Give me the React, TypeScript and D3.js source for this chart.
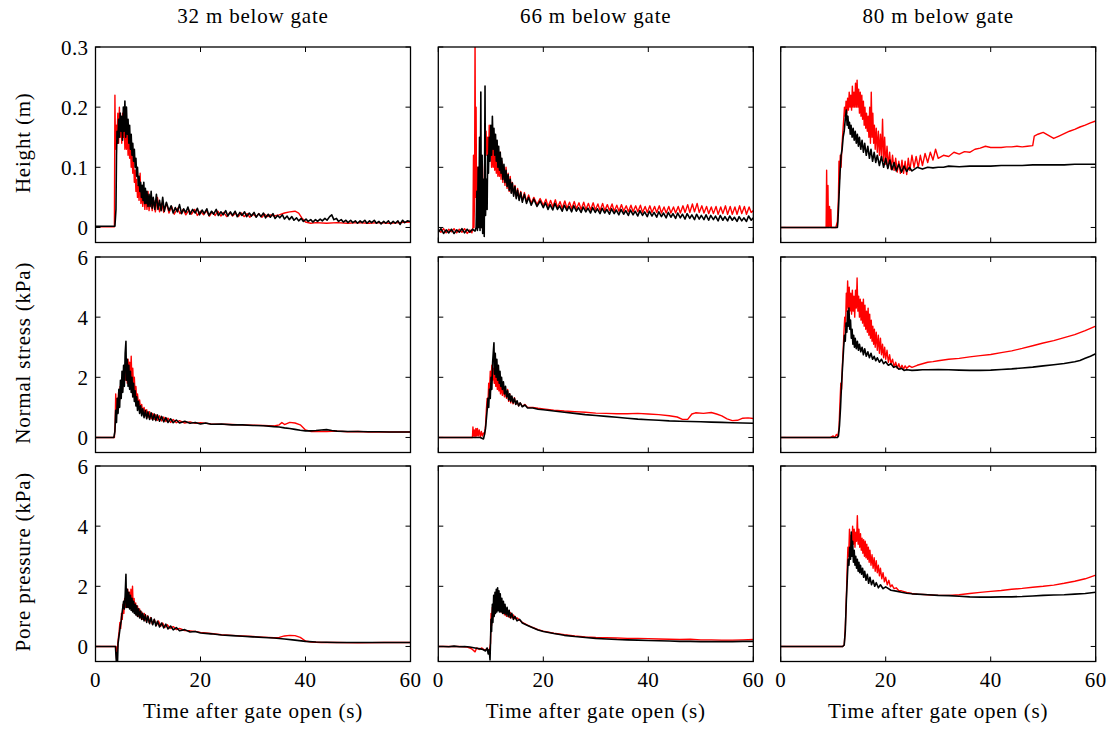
import React from "react";
import * as d3 from "d3";

type Pt = [number, number];

const columnTitles = ["32 m below gate", "66 m below gate", "80 m below gate"];
const rowLabels = ["Height (m)", "Normal stress (kPa)", "Pore pressure (kPa)"];
const xTicks = [0, 20, 40, 60];
const yTicksHeight = [0, 0.1, 0.2, 0.3];
const yTicksKpa = [0, 2, 4, 6];
const xLabel = "Time after gate open (s)";

// ---- 32 m ----
const h32Red: Pt[] = [[0,0.001],[3.6,0.001],[3.7,0.22],[3.8,0.13],[3.95,0.17],[4.1,0.15],[4.25,0.19],[4.4,0.14],[4.55,0.2],[4.7,0.15],[4.85,0.18],[5.0,0.14],[5.15,0.19],[5.3,0.15],[5.45,0.17],[5.6,0.13],[5.75,0.16],[5.9,0.13],[6.05,0.175],[6.2,0.12],[6.35,0.16],[6.5,0.115],[6.65,0.14],[6.8,0.1],[6.95,0.125],[7.1,0.09],[7.25,0.11],[7.4,0.075],[7.55,0.095],[7.7,0.06],[7.85,0.08],[8.0,0.05],[8.15,0.07],[8.3,0.045],[8.5,0.09],[8.65,0.04],[8.8,0.06],[9.0,0.035],[9.2,0.065],[9.4,0.03],[9.6,0.055],[9.8,0.03],[10.0,0.06],[10.2,0.028],[10.5,0.05],[10.8,0.028],[11.1,0.045],[11.4,0.026],[11.8,0.05],[12.2,0.026],[12.6,0.04],[13.0,0.025],[13.5,0.04],[14,0.024],[14.5,0.035],[15.0,0.022],[15.6,0.032],[16.1,0.023],[16.7,0.03],[17.2,0.021],[17.8,0.029],[18.3,0.022],[18.9,0.03],[19.4,0.02],[20.0,0.027],[20.6,0.021],[21.1,0.028],[21.7,0.019],[22.2,0.026],[22.8,0.02],[23.3,0.027],[23.9,0.019],[24.4,0.025],[25.0,0.018],[25.6,0.025],[26.1,0.019],[26.7,0.024],[27.2,0.018],[27.8,0.024],[28.3,0.018],[28.9,0.023],[29.4,0.017],[30.0,0.022],[30.6,0.018],[31.1,0.023],[31.7,0.017],[32.2,0.022],[32.8,0.018],[33.3,0.021],[34,0.019],[35,0.021],[36,0.024],[37,0.026],[38,0.027],[38.7,0.024],[39.3,0.016],[40,0.009],[41,0.007],[42,0.008],[44,0.007],[46,0.008],[48,0.007],[50,0.008],[52,0.007],[54,0.008],[56,0.007],[58,0.008],[60,0.009]];
const h32Black: Pt[] = [[0,0.002],[3.7,0.002],[3.9,0.03],[4.0,0.12],[4.1,0.16],[4.25,0.14],[4.4,0.18],[4.55,0.15],[4.7,0.19],[4.85,0.16],[5.0,0.185],[5.15,0.145],[5.3,0.2],[5.45,0.16],[5.6,0.21],[5.75,0.15],[5.9,0.2],[6.05,0.155],[6.2,0.18],[6.35,0.14],[6.5,0.17],[6.65,0.13],[6.8,0.155],[6.95,0.12],[7.1,0.14],[7.25,0.11],[7.4,0.13],[7.55,0.1],[7.7,0.115],[7.85,0.085],[8.0,0.1],[8.15,0.07],[8.3,0.085],[8.45,0.06],[8.6,0.075],[8.75,0.05],[8.9,0.07],[9.05,0.045],[9.2,0.075],[9.35,0.04],[9.5,0.065],[9.65,0.04],[9.8,0.06],[10.0,0.035],[10.2,0.055],[10.4,0.035],[10.6,0.06],[10.8,0.032],[11.0,0.05],[11.3,0.03],[11.6,0.055],[11.9,0.03],[12.2,0.045],[12.5,0.028],[12.8,0.05],[13.1,0.027],[13.5,0.042],[14.0,0.028],[14.4,0.036],[14.8,0.024],[15.2,0.033],[15.6,0.026],[16.0,0.038],[16.4,0.023],[16.8,0.031],[17.2,0.025],[17.6,0.034],[18.0,0.022],[18.5,0.03],[19.0,0.024],[19.4,0.032],[19.8,0.021],[20.3,0.029],[20.7,0.023],[21.2,0.031],[21.6,0.02],[22.1,0.027],[22.5,0.022],[23.0,0.03],[23.4,0.02],[23.9,0.026],[24.3,0.021],[24.8,0.028],[25.2,0.019],[25.7,0.026],[26.1,0.02],[26.6,0.027],[27.0,0.018],[27.5,0.025],[27.9,0.02],[28.4,0.026],[28.8,0.018],[29.3,0.024],[29.7,0.019],[30.2,0.025],[30.6,0.017],[31.1,0.023],[31.5,0.018],[32.0,0.024],[32.4,0.016],[32.9,0.022],[33.3,0.017],[33.8,0.023],[34.2,0.015],[34.7,0.02],[35.1,0.016],[35.6,0.021],[36.0,0.014],[36.5,0.019],[36.9,0.013],[37.4,0.018],[37.8,0.012],[38.3,0.016],[38.7,0.011],[39.2,0.015],[39.6,0.01],[40.1,0.014],[40.5,0.01],[41.0,0.013],[41.4,0.009],[41.9,0.013],[42.3,0.01],[42.8,0.014],[43.2,0.011],[43.7,0.015],[44.1,0.012],[44.6,0.018],[45.0,0.021],[45.4,0.013],[45.9,0.015],[46.3,0.01],[46.8,0.013],[47.2,0.009],[47.7,0.012],[48.1,0.008],[48.6,0.012],[49.0,0.008],[49.5,0.011],[49.9,0.007],[50.4,0.011],[50.8,0.008],[51.3,0.012],[51.7,0.007],[52.2,0.011],[52.6,0.008],[53.1,0.012],[53.5,0.007],[54.0,0.01],[54.4,0.006],[54.9,0.01],[55.3,0.007],[55.8,0.011],[56.2,0.006],[56.7,0.01],[57.1,0.007],[57.6,0.011],[58.0,0.005],[58.5,0.012],[58.9,0.008],[59.4,0.011],[60,0.01]];
const ns32Red: Pt[] = [[0,0],[3.6,0],[3.75,0.5],[3.85,1.45],[3.95,0.9],[4.1,1.3],[4.25,1.0],[4.4,1.5],[4.55,1.2],[4.7,1.7],[4.85,1.35],[5.0,1.9],[5.15,1.6],[5.3,2.2],[5.45,1.8],[5.6,2.4],[5.75,1.9],[5.9,2.5],[6.05,1.8],[6.2,2.6],[6.35,1.9],[6.5,2.5],[6.65,1.8],[6.8,2.7],[6.95,1.75],[7.1,2.3],[7.25,1.6],[7.4,2.0],[7.55,1.4],[7.7,1.7],[7.85,1.2],[8.0,1.45],[8.2,1.05],[8.4,1.25],[8.6,0.9],[8.8,1.1],[9.0,0.8],[9.25,1.0],[9.5,0.72],[9.75,0.92],[10.0,0.66],[10.3,0.86],[10.6,0.62],[10.9,0.8],[11.2,0.6],[11.5,0.76],[11.8,0.57],[12.2,0.72],[12.6,0.55],[13.0,0.68],[13.4,0.53],[13.8,0.64],[14.3,0.5],[14.8,0.6],[15.4,0.49],[16,0.56],[17,0.48],[18,0.52],[19,0.47],[20,0.49],[22,0.45],[24,0.44],[26,0.43],[28,0.42],[30,0.41],[32,0.4],[34,0.38],[35,0.42],[35.5,0.5],[36,0.43],[37,0.5],[38,0.48],[39,0.42],[40,0.25],[41,0.2],[42,0.2],[44,0.2],[46,0.21],[48,0.19],[50,0.2],[52,0.18],[54,0.18],[56,0.18],[58,0.18],[60,0.18]];
const ns32Black: Pt[] = [[0,0],[3.5,0],[3.7,0.2],[3.85,0.9],[4.0,0.5],[4.15,1.3],[4.3,0.8],[4.45,1.6],[4.6,1.0],[4.75,1.9],[4.9,1.3],[5.05,2.2],[5.2,1.5],[5.35,2.4],[5.5,1.7],[5.65,2.8],[5.8,3.2],[5.9,1.9],[6.05,2.6],[6.2,1.7],[6.35,2.4],[6.5,1.6],[6.65,2.2],[6.8,1.5],[6.95,2.0],[7.1,1.35],[7.25,1.8],[7.4,1.2],[7.55,1.55],[7.7,1.05],[7.85,1.35],[8.0,0.9],[8.2,1.2],[8.4,0.8],[8.6,1.05],[8.8,0.72],[9.0,0.95],[9.25,0.66],[9.5,0.9],[9.75,0.62],[10.0,0.85],[10.3,0.6],[10.6,0.82],[10.9,0.58],[11.2,0.78],[11.5,0.56],[11.8,0.75],[12.2,0.54],[12.6,0.7],[13.0,0.52],[13.4,0.66],[13.8,0.5],[14.3,0.62],[14.8,0.49],[15.4,0.58],[16,0.48],[17,0.54],[18,0.47],[19,0.5],[20,0.45],[21,0.48],[22,0.44],[24,0.45],[26,0.42],[28,0.42],[30,0.4],[32,0.39],[34,0.36],[35,0.35],[36,0.32],[37,0.3],[38,0.27],[39,0.24],[40,0.22],[41,0.22],[42,0.23],[43,0.25],[44,0.26],[45,0.23],[46,0.21],[48,0.2],[50,0.2],[52,0.19],[54,0.19],[56,0.18],[58,0.18],[60,0.18]];
const pp32Red: Pt[] = [[0,0],[3.9,0],[4.0,-0.4],[4.15,-0.1],[4.3,0.2],[4.5,0.5],[4.65,0.8],[4.8,0.6],[4.95,1.1],[5.1,0.9],[5.25,1.4],[5.4,1.1],[5.55,1.6],[5.7,1.3],[5.85,1.8],[6.0,1.3],[6.15,1.9],[6.3,1.35],[6.45,1.8],[6.6,1.3],[6.75,1.9],[6.9,1.25],[7.05,2.0],[7.2,1.2],[7.35,1.6],[7.5,1.1],[7.65,1.45],[7.8,1.05],[8.0,1.35],[8.2,1.0],[8.4,1.25],[8.6,0.95],[8.8,1.15],[9.0,0.9],[9.3,1.1],[9.6,0.85],[9.9,1.02],[10.2,0.8],[10.5,0.96],[10.8,0.75],[11.2,0.9],[11.6,0.7],[12.0,0.85],[12.4,0.67],[12.8,0.78],[13.2,0.63],[13.7,0.72],[14.2,0.6],[14.8,0.66],[15.4,0.56],[16,0.6],[17,0.53],[18,0.52],[19,0.5],[20,0.47],[22,0.43],[24,0.39],[26,0.37],[28,0.35],[30,0.33],[32,0.31],[34,0.29],[35,0.3],[36,0.35],[37,0.37],[38,0.36],[39,0.3],[40,0.18],[41,0.15],[43,0.13],[46,0.13],[50,0.12],[55,0.13],[60,0.13]];
const pp32Black: Pt[] = [[0,0],[3.8,0],[3.9,-0.3],[4.0,-0.6],[4.1,-0.2],[4.2,-0.5],[4.3,0.1],[4.45,0.3],[4.6,0.5],[4.75,0.7],[4.9,0.85],[5.05,1.1],[5.2,1.3],[5.35,1.5],[5.5,1.25],[5.65,1.7],[5.8,2.4],[5.9,1.3],[6.05,1.9],[6.2,1.3],[6.35,1.8],[6.5,1.25],[6.65,1.7],[6.8,1.2],[6.95,1.6],[7.1,1.15],[7.25,1.5],[7.4,1.1],[7.55,1.4],[7.7,1.05],[7.85,1.35],[8.0,1.0],[8.2,1.25],[8.4,0.95],[8.6,1.18],[8.8,0.9],[9.0,1.1],[9.25,0.85],[9.5,1.05],[9.75,0.8],[10.0,1.0],[10.3,0.76],[10.6,0.95],[10.9,0.72],[11.2,0.9],[11.5,0.68],[11.8,0.84],[12.2,0.65],[12.6,0.78],[13.0,0.62],[13.4,0.74],[13.8,0.58],[14.3,0.68],[14.8,0.55],[15.4,0.63],[16,0.52],[17,0.56],[18,0.48],[19,0.5],[20,0.45],[22,0.42],[24,0.38],[26,0.36],[28,0.34],[30,0.32],[32,0.3],[34,0.28],[36,0.25],[38,0.21],[40,0.17],[42,0.15],[44,0.14],[46,0.13],[50,0.13],[55,0.13],[60,0.13]];

// ---- 66 m ----
const h66Red: Pt[] = [[0,-0.004],[0.5,-0.008],[1,-0.002],[1.5,-0.009],[2,-0.003],[2.5,-0.007],[3,-0.002],[3.5,-0.009],[4,-0.003],[4.5,-0.008],[5,-0.002],[5.5,-0.01],[6,-0.004],[6.4,-0.009],[6.6,0.0],[6.7,0.12],[6.8,0.0],[6.9,0.05],[7.0,0.32],[7.1,0.05],[7.2,0.2],[7.3,0.02],[7.45,0.1],[7.6,0.01],[7.75,0.08],[7.9,0.0],[8.05,0.06],[8.2,0.0],[8.4,0.04],[8.6,0.01],[8.8,0.1],[8.95,0.13],[9.1,0.16],[9.25,0.12],[9.4,0.15],[9.55,0.11],[9.7,0.17],[9.85,0.12],[10.0,0.15],[10.15,0.1],[10.3,0.14],[10.45,0.1],[10.6,0.13],[10.75,0.095],[10.9,0.125],[11.05,0.09],[11.2,0.12],[11.35,0.085],[11.5,0.115],[11.65,0.085],[11.8,0.125],[11.95,0.08],[12.1,0.11],[12.3,0.075],[12.5,0.1],[12.7,0.07],[12.9,0.1],[13.1,0.065],[13.3,0.09],[13.5,0.06],[13.7,0.085],[13.9,0.058],[14.1,0.075],[14.35,0.055],[14.6,0.07],[14.85,0.05],[15.1,0.065],[15.4,0.048],[15.7,0.06],[16,0.045],[16.4,0.058],[16.8,0.043],[17.2,0.054],[17.7,0.04],[18.2,0.05],[18.8,0.038],[19.4,0.048],[20.0,0.037],[20.5,0.047],[20.9,0.035],[21.4,0.045],[21.8,0.034],[22.3,0.046],[22.7,0.033],[23.2,0.043],[23.6,0.032],[24.1,0.044],[24.5,0.032],[25.0,0.042],[25.4,0.031],[25.9,0.043],[26.3,0.031],[26.8,0.041],[27.2,0.03],[27.7,0.042],[28.1,0.03],[28.6,0.04],[29.0,0.029],[29.5,0.041],[29.9,0.029],[30.4,0.039],[30.8,0.028],[31.3,0.04],[31.7,0.028],[32.2,0.038],[32.6,0.028],[33.1,0.039],[33.5,0.027],[34.0,0.037],[34.4,0.027],[34.9,0.038],[35.3,0.027],[35.8,0.036],[36.2,0.026],[36.7,0.037],[37.1,0.026],[37.6,0.036],[38.0,0.026],[38.5,0.037],[38.9,0.025],[39.4,0.035],[39.8,0.025],[40.3,0.036],[40.7,0.025],[41.2,0.035],[41.6,0.025],[42.1,0.036],[42.5,0.024],[43.0,0.034],[43.4,0.024],[43.9,0.035],[44.3,0.024],[44.8,0.034],[45.2,0.024],[45.7,0.035],[46.1,0.024],[46.6,0.036],[47.0,0.025],[47.5,0.038],[47.9,0.025],[48.4,0.039],[48.8,0.026],[49.3,0.04],[49.7,0.025],[50.2,0.036],[50.6,0.024],[51.1,0.035],[51.5,0.023],[52.0,0.034],[52.4,0.023],[52.9,0.035],[53.3,0.022],[53.8,0.034],[54.2,0.023],[54.7,0.036],[55.1,0.022],[55.6,0.035],[56.0,0.022],[56.5,0.034],[56.9,0.022],[57.4,0.036],[57.8,0.023],[58.3,0.035],[58.7,0.022],[59.2,0.034],[59.6,0.025],[60,0.028]];
const h66Black: Pt[] = [[0,-0.008],[0.5,-0.002],[1,-0.01],[1.5,-0.004],[2,-0.009],[2.5,-0.003],[3,-0.01],[3.5,-0.004],[4,-0.008],[4.5,-0.002],[5,-0.009],[5.5,-0.003],[6,-0.008],[6.5,-0.003],[7,-0.006],[7.2,0.0],[7.35,0.06],[7.45,-0.005],[7.6,0.1],[7.7,0.0],[7.85,0.15],[7.95,-0.005],[8.1,0.225],[8.2,0.0],[8.35,0.12],[8.45,-0.01],[8.6,0.08],[8.75,-0.015],[8.9,0.235],[9.0,0.02],[9.15,0.08],[9.3,0.03],[9.4,0.12],[9.55,0.09],[9.7,0.15],[9.85,0.11],[10.0,0.17],[10.15,0.12],[10.3,0.185],[10.45,0.13],[10.6,0.165],[10.75,0.12],[10.9,0.155],[11.05,0.11],[11.2,0.145],[11.35,0.1],[11.5,0.135],[11.65,0.095],[11.8,0.125],[11.95,0.09],[12.1,0.115],[12.3,0.08],[12.5,0.105],[12.7,0.075],[12.9,0.095],[13.1,0.068],[13.3,0.088],[13.5,0.062],[13.7,0.08],[13.9,0.057],[14.1,0.074],[14.35,0.052],[14.6,0.068],[14.85,0.048],[15.1,0.062],[15.4,0.045],[15.7,0.058],[16,0.042],[16.4,0.055],[16.8,0.04],[17.2,0.05],[17.7,0.037],[18.2,0.047],[18.8,0.035],[19.4,0.044],[20.0,0.033],[20.4,0.041],[20.9,0.03],[21.3,0.038],[21.8,0.029],[22.2,0.04],[22.7,0.03],[23.1,0.036],[23.6,0.027],[24.0,0.037],[24.5,0.028],[24.9,0.035],[25.4,0.026],[25.8,0.036],[26.3,0.027],[26.7,0.033],[27.2,0.025],[27.6,0.034],[28.1,0.026],[28.5,0.032],[29.0,0.024],[29.4,0.033],[29.9,0.025],[30.3,0.031],[30.8,0.023],[31.2,0.032],[31.7,0.024],[32.1,0.03],[32.6,0.022],[33.0,0.031],[33.5,0.023],[33.9,0.029],[34.4,0.021],[34.8,0.03],[35.3,0.022],[35.7,0.028],[36.2,0.02],[36.6,0.029],[37.1,0.021],[37.5,0.027],[38.0,0.019],[38.4,0.028],[38.9,0.02],[39.3,0.026],[39.8,0.018],[40.2,0.027],[40.7,0.019],[41.1,0.025],[41.6,0.017],[42.0,0.026],[42.5,0.018],[42.9,0.024],[43.4,0.016],[43.8,0.025],[44.3,0.017],[44.7,0.023],[45.2,0.015],[45.6,0.024],[46.1,0.016],[46.5,0.022],[47.0,0.014],[47.4,0.023],[47.9,0.015],[48.3,0.021],[48.8,0.013],[49.2,0.022],[49.7,0.014],[50.1,0.02],[50.6,0.013],[51.0,0.021],[51.5,0.012],[51.9,0.02],[52.4,0.013],[52.8,0.019],[53.3,0.011],[53.7,0.02],[54.2,0.012],[54.6,0.018],[55.1,0.011],[55.5,0.019],[56.0,0.012],[56.4,0.017],[56.9,0.01],[57.3,0.018],[57.8,0.011],[58.2,0.016],[58.7,0.01],[59.1,0.019],[59.6,0.012],[60,0.016]];
const ns66Red: Pt[] = [[0,0],[6.5,0],[6.6,0.35],[6.7,0.05],[6.85,0.25],[7.0,0.0],[7.15,0.3],[7.3,0.05],[7.45,0.3],[7.6,0.05],[7.8,0.25],[8.0,0.0],[8.2,0.2],[8.4,0.05],[8.6,0.15],[8.8,0.1],[9.0,0.4],[9.15,0.9],[9.3,1.3],[9.45,1.1],[9.6,1.8],[9.75,1.5],[9.9,2.2],[10.05,1.9],[10.2,2.4],[10.35,1.9],[10.5,2.3],[10.65,1.8],[10.8,2.1],[10.95,1.7],[11.1,2.0],[11.25,1.6],[11.4,1.9],[11.55,1.55],[11.7,1.8],[11.85,1.45],[12.0,1.75],[12.2,1.4],[12.4,1.65],[12.6,1.35],[12.8,1.55],[13.0,1.3],[13.2,1.6],[13.4,1.2],[13.6,1.45],[13.8,1.15],[14.0,1.35],[14.25,1.12],[14.5,1.32],[14.75,1.1],[15.0,1.2],[15.3,1.05],[15.6,1.15],[16,1.03],[16.5,1.1],[17,1.0],[18,1.0],[19,0.97],[20,0.95],[22,0.91],[24,0.88],[26,0.86],[28,0.84],[30,0.81],[32,0.8],[34,0.79],[36,0.79],[38,0.8],[40,0.78],[42,0.76],[44,0.72],[45.5,0.68],[46.5,0.6],[47.5,0.6],[48.3,0.78],[49,0.82],[50.5,0.8],[52,0.83],[53,0.78],[54,0.72],[55,0.62],[56,0.56],[57,0.57],[58,0.64],[59,0.65],[60,0.63]];
const ns66Black: Pt[] = [[0,0],[7,0],[8,0.0],[8.6,-0.05],[8.8,0.1],[9.0,0.3],[9.15,0.6],[9.3,0.9],[9.45,1.3],[9.6,1.0],[9.75,1.6],[9.9,1.3],[10.05,2.0],[10.2,1.6],[10.35,2.5],[10.5,2.9],[10.6,3.15],[10.7,2.1],[10.85,2.8],[11.0,2.0],[11.15,2.6],[11.3,1.9],[11.45,2.4],[11.6,1.8],[11.75,2.2],[11.9,1.7],[12.05,2.0],[12.2,1.6],[12.4,1.85],[12.6,1.45],[12.8,1.7],[13.0,1.35],[13.2,1.55],[13.4,1.25],[13.6,1.45],[13.8,1.2],[14.0,1.38],[14.25,1.15],[14.5,1.3],[14.75,1.1],[15.0,1.22],[15.3,1.05],[15.6,1.15],[16,1.02],[16.5,1.08],[17,0.98],[18,0.98],[19,0.94],[20,0.92],[22,0.88],[24,0.84],[26,0.8],[28,0.76],[30,0.73],[32,0.7],[34,0.67],[36,0.64],[38,0.61],[40,0.59],[42,0.57],[44,0.55],[46,0.54],[48,0.53],[50,0.52],[52,0.51],[54,0.5],[56,0.49],[58,0.48],[60,0.47]];
const pp66Red: Pt[] = [[0,0],[2,0],[4,0],[5.5,-0.02],[6,-0.05],[6.5,-0.1],[7,-0.18],[7.3,-0.05],[7.8,-0.1],[8.3,-0.05],[8.8,-0.12],[9.3,-0.08],[9.7,-0.15],[9.95,0.1],[10.05,1.1],[10.15,0.7],[10.3,1.3],[10.45,1.0],[10.6,1.5],[10.75,1.1],[10.9,1.6],[11.05,1.2],[11.2,1.7],[11.35,1.2],[11.5,1.6],[11.65,1.2],[11.8,1.5],[11.95,1.15],[12.1,1.45],[12.25,1.1],[12.4,1.35],[12.6,1.05],[12.8,1.25],[13.0,1.0],[13.25,1.2],[13.5,0.97],[13.75,1.12],[14.0,0.95],[14.3,1.05],[14.6,0.92],[15.0,0.95],[15.5,0.87],[16,0.8],[17,0.71],[18,0.63],[19,0.56],[20,0.51],[22,0.44],[24,0.39],[26,0.35],[28,0.32],[30,0.3],[32,0.29],[34,0.28],[36,0.27],[38,0.27],[40,0.26],[42,0.25],[44,0.24],[46,0.23],[48,0.24],[50,0.22],[52,0.22],[54,0.21],[56,0.21],[58,0.22],[60,0.23]];
const pp66Black: Pt[] = [[0,0],[1,0],[2,-0.01],[3,0.01],[4,-0.01],[5,0],[6,-0.02],[7,-0.05],[8,-0.08],[8.5,-0.1],[9,-0.15],[9.3,-0.05],[9.5,-0.25],[9.7,-0.1],[9.85,-0.45],[9.95,0.2],[10.05,0.9],[10.15,0.5],[10.3,1.4],[10.4,0.8],[10.55,1.7],[10.65,1.0],[10.8,1.8],[10.9,1.1],[11.05,1.9],[11.15,1.15],[11.3,1.95],[11.4,1.2],[11.55,1.85],[11.65,1.15],[11.8,1.75],[11.95,1.15],[12.1,1.6],[12.25,1.1],[12.4,1.5],[12.55,1.1],[12.7,1.4],[12.9,1.05],[13.1,1.3],[13.3,1.0],[13.5,1.2],[13.75,0.95],[14.0,1.1],[14.3,0.9],[14.6,1.0],[15.0,0.85],[15.5,0.9],[16,0.78],[17,0.7],[18,0.62],[19,0.55],[20,0.5],[22,0.43],[24,0.37],[26,0.33],[28,0.3],[30,0.27],[32,0.25],[34,0.23],[36,0.22],[38,0.21],[40,0.2],[42,0.19],[44,0.18],[46,0.17],[48,0.17],[50,0.16],[52,0.16],[54,0.16],[56,0.16],[58,0.17],[60,0.17]];

// ---- 80 m ----
const h80Red: Pt[] = [[0,0],[8.5,0],[8.65,0.0],[8.75,0.095],[8.85,0.0],[9.0,0.07],[9.1,0.0],[9.3,0.035],[9.4,0.0],[9.55,0.03],[9.65,0.0],[10.5,0.0],[10.8,0.01],[11.0,0.05],[11.1,0.11],[11.2,0.08],[11.35,0.12],[11.5,0.1],[11.7,0.14],[11.85,0.16],[12.0,0.18],[12.15,0.2],[12.3,0.185],[12.45,0.21],[12.6,0.19],[12.75,0.215],[12.9,0.195],[13.05,0.225],[13.2,0.2],[13.35,0.22],[13.5,0.195],[13.65,0.235],[13.8,0.2],[13.95,0.225],[14.1,0.2],[14.25,0.24],[14.4,0.2],[14.55,0.245],[14.7,0.2],[14.85,0.23],[15.0,0.19],[15.15,0.225],[15.3,0.185],[15.45,0.22],[15.6,0.18],[15.75,0.21],[15.9,0.17],[16.05,0.2],[16.2,0.165],[16.35,0.19],[16.5,0.16],[16.65,0.185],[16.8,0.15],[16.95,0.2],[17.1,0.14],[17.25,0.225],[17.4,0.15],[17.55,0.19],[17.7,0.14],[17.85,0.17],[18.0,0.13],[18.2,0.165],[18.4,0.125],[18.6,0.16],[18.8,0.12],[19.0,0.155],[19.2,0.115],[19.4,0.18],[19.6,0.11],[19.8,0.15],[20.0,0.105],[20.25,0.135],[20.5,0.1],[20.75,0.125],[21.0,0.097],[21.3,0.12],[21.6,0.095],[21.9,0.115],[22.2,0.092],[22.5,0.11],[22.8,0.09],[23.1,0.112],[23.4,0.09],[23.7,0.11],[24.0,0.088],[24.3,0.115],[24.6,0.095],[25,0.12],[25.4,0.1],[25.8,0.118],[26.2,0.1],[26.6,0.12],[27,0.103],[27.5,0.123],[28,0.108],[28.5,0.125],[29,0.112],[29.5,0.13],[30,0.115],[31,0.12],[32,0.118],[33,0.125],[34,0.122],[35,0.126],[36,0.125],[37,0.13],[38,0.132],[39,0.135],[40,0.133],[41,0.133],[42,0.133],[43,0.134],[44,0.134],[45,0.135],[46,0.134],[47,0.135],[48,0.136],[48.3,0.152],[49,0.155],[50,0.158],[51,0.153],[52,0.148],[53,0.152],[54,0.156],[55,0.16],[56,0.163],[57,0.167],[58,0.17],[59,0.174],[60,0.177]];
const h80Black: Pt[] = [[0,0],[10.5,0],[10.8,0.0],[10.9,0.01],[11.1,0.05],[11.3,0.09],[11.5,0.12],[11.7,0.13],[11.9,0.15],[12.1,0.16],[12.3,0.18],[12.5,0.195],[12.65,0.17],[12.8,0.185],[12.95,0.165],[13.1,0.175],[13.25,0.155],[13.4,0.17],[13.6,0.15],[13.8,0.165],[14.0,0.145],[14.2,0.16],[14.4,0.14],[14.6,0.155],[14.8,0.135],[15.0,0.15],[15.25,0.13],[15.5,0.145],[15.75,0.125],[16.0,0.14],[16.3,0.12],[16.6,0.135],[16.9,0.115],[17.2,0.13],[17.5,0.11],[17.8,0.125],[18.1,0.108],[18.4,0.12],[18.8,0.103],[19.2,0.118],[19.6,0.1],[20.0,0.115],[20.4,0.098],[20.8,0.112],[21.2,0.096],[21.6,0.108],[22.0,0.094],[22.5,0.105],[23.0,0.092],[23.5,0.102],[24,0.093],[24.5,0.1],[25,0.094],[26,0.1],[27,0.097],[28,0.1],[29,0.099],[30,0.1],[31,0.1],[32,0.102],[34,0.101],[36,0.102],[38,0.102],[40,0.102],[42,0.103],[44,0.103],[46,0.103],[48,0.104],[50,0.104],[52,0.104],[54,0.104],[56,0.105],[58,0.105],[60,0.105]];
const ns80Red: Pt[] = [[0,0],[9.5,0],[10,0.05],[10.3,0.0],[10.6,0.1],[10.9,0.05],[11.1,0.3],[11.3,1.2],[11.45,1.8],[11.6,1.6],[11.75,2.4],[11.9,2.9],[12.05,3.5],[12.2,4.0],[12.35,3.7],[12.5,4.8],[12.6,4.2],[12.75,5.2],[12.9,4.3],[13.05,5.0],[13.2,4.2],[13.35,4.8],[13.5,4.1],[13.65,4.9],[13.8,4.2],[13.95,4.7],[14.1,4.0],[14.25,4.9],[14.4,4.3],[14.55,5.3],[14.7,4.2],[14.85,4.7],[15.0,4.0],[15.15,4.6],[15.3,3.9],[15.45,4.5],[15.6,3.8],[15.75,4.6],[15.9,3.7],[16.05,4.4],[16.2,3.6],[16.35,4.2],[16.5,3.5],[16.65,4.3],[16.8,3.4],[16.95,4.1],[17.1,3.3],[17.25,3.9],[17.4,3.2],[17.55,3.7],[17.7,3.1],[17.85,3.6],[18.0,3.0],[18.2,3.5],[18.4,2.9],[18.6,3.4],[18.8,2.8],[19.0,3.3],[19.2,2.75],[19.4,3.1],[19.6,2.65],[19.8,3.0],[20.0,2.6],[20.25,2.9],[20.5,2.5],[20.75,2.75],[21.0,2.45],[21.3,2.6],[21.6,2.35],[21.9,2.5],[22.2,2.3],[22.5,2.45],[22.8,2.28],[23.1,2.4],[23.4,2.27],[23.7,2.38],[24,2.3],[24.5,2.38],[25,2.33],[26,2.4],[27,2.45],[28,2.5],[29,2.52],[30,2.55],[32,2.6],[34,2.63],[36,2.68],[38,2.72],[40,2.76],[42,2.82],[44,2.88],[46,2.96],[48,3.05],[50,3.14],[52,3.22],[54,3.32],[56,3.42],[58,3.55],[60,3.7]];
const ns80Black: Pt[] = [[0,0],[10.8,0],[11.0,0.05],[11.2,0.4],[11.4,1.0],[11.6,1.8],[11.8,2.4],[12.0,3.0],[12.15,3.4],[12.3,3.2],[12.45,3.8],[12.6,3.5],[12.75,4.2],[12.85,3.7],[13.0,4.3],[13.15,3.6],[13.3,3.9],[13.45,3.3],[13.6,3.6],[13.75,3.1],[13.9,3.4],[14.05,3.0],[14.2,3.3],[14.4,2.95],[14.6,3.2],[14.8,2.9],[15.0,3.1],[15.25,2.85],[15.5,3.0],[15.75,2.75],[16.0,2.95],[16.3,2.7],[16.6,2.85],[16.9,2.65],[17.2,2.8],[17.5,2.6],[17.8,2.7],[18.1,2.55],[18.4,2.65],[18.8,2.5],[19.2,2.6],[19.6,2.45],[20,2.52],[20.5,2.4],[21,2.45],[21.5,2.33],[22,2.37],[22.5,2.27],[23,2.3],[23.5,2.23],[24,2.25],[25,2.23],[26,2.24],[27,2.25],[28,2.25],[30,2.26],[32,2.25],[34,2.24],[36,2.23],[38,2.23],[40,2.24],[42,2.26],[44,2.28],[46,2.31],[48,2.34],[50,2.38],[52,2.42],[54,2.46],[56,2.52],[57,2.56],[58,2.63],[59,2.7],[60,2.78]];
const pp80Red: Pt[] = [[0,0],[11.8,0],[12.1,0.05],[12.3,0.6],[12.5,1.6],[12.65,2.5],[12.8,3.3],[12.95,3.0],[13.1,3.9],[13.25,3.3],[13.4,3.7],[13.55,3.2],[13.7,4.0],[13.85,3.4],[14.0,3.9],[14.15,3.3],[14.3,3.8],[14.45,3.5],[14.6,4.35],[14.75,3.4],[14.9,3.9],[15.05,3.3],[15.2,3.75],[15.35,3.2],[15.5,3.6],[15.65,3.1],[15.8,3.55],[15.95,3.0],[16.1,3.5],[16.25,2.95],[16.4,3.4],[16.55,2.9],[16.7,3.3],[16.85,2.8],[17.0,3.2],[17.2,2.7],[17.4,3.05],[17.6,2.6],[17.8,2.95],[18.0,2.5],[18.2,2.85],[18.4,2.45],[18.6,2.7],[18.8,2.35],[19.0,2.6],[19.25,2.25],[19.5,2.45],[19.75,2.15],[20.0,2.3],[20.3,2.05],[20.6,2.2],[20.9,1.98],[21.2,2.05],[21.6,1.92],[22,1.95],[22.5,1.85],[23,1.85],[24,1.8],[25,1.76],[26,1.74],[28,1.72],[30,1.7],[32,1.7],[34,1.72],[36,1.76],[38,1.8],[40,1.83],[42,1.86],[44,1.9],[46,1.93],[48,1.97],[50,2.0],[52,2.04],[54,2.1],[56,2.17],[58,2.25],[60,2.37]];
const pp80Black: Pt[] = [[0,0],[11.8,0],[12.1,0.05],[12.3,0.5],[12.5,1.5],[12.7,2.3],[12.85,2.9],[13.0,2.7],[13.15,3.3],[13.3,2.9],[13.45,3.8],[13.55,3.0],[13.7,3.5],[13.85,2.8],[14.0,3.2],[14.15,2.7],[14.3,3.0],[14.45,2.6],[14.6,2.9],[14.75,2.5],[14.9,2.8],[15.05,2.45],[15.2,2.7],[15.4,2.4],[15.6,2.6],[15.8,2.3],[16.0,2.5],[16.25,2.2],[16.5,2.4],[16.75,2.1],[17.0,2.3],[17.3,2.05],[17.6,2.2],[17.9,2.0],[18.2,2.12],[18.6,1.95],[19.0,2.05],[19.5,1.92],[20,1.98],[21,1.87],[22,1.84],[23,1.8],[24,1.77],[25,1.75],[26,1.74],[28,1.72],[30,1.7],[32,1.69],[34,1.67],[36,1.65],[38,1.64],[40,1.64],[42,1.65],[44,1.65],[46,1.66],[48,1.68],[50,1.7],[52,1.71],[54,1.72],[56,1.74],[58,1.76],[60,1.8]];

const panelSeries: { red: Pt[]; black: Pt[] }[][] = [
  [{ red: h32Red, black: h32Black }, { red: h66Red, black: h66Black }, { red: h80Red, black: h80Black }],
  [{ red: ns32Red, black: ns32Black }, { red: ns66Red, black: ns66Black }, { red: ns80Red, black: ns80Black }],
  [{ red: pp32Red, black: pp32Black }, { red: pp66Red, black: pp66Black }, { red: pp80Red, black: pp80Black }],
];

const W = 1119;
const H = 730;
const colLeft = [95.5, 438.3, 780.7];
const panelW = 315;
const rowTop = [47, 257, 466];
const panelH = 195.5;
const yDomains: [number, number][] = [[-0.025, 0.3], [-0.5, 6], [-0.5, 6]];
const yTickSets = [yTicksHeight, yTicksKpa, yTicksKpa];
const FONT = "'Liberation Serif', 'Times New Roman', serif";
const FS = 21;
const LS = 0.8;
const TICK = 5;

export default function App() {
  const panels: React.ReactNode[] = [];
  for (let r = 0; r < 3; r++) {
    for (let c = 0; c < 3; c++) {
      const x0 = colLeft[c];
      const y0 = rowTop[r];
      const xs = d3.scaleLinear().domain([0, 60]).range([x0, x0 + panelW]);
      const ys = d3.scaleLinear().domain(yDomains[r]).range([y0 + panelH, y0]);
      const line = d3.line<Pt>().x((d) => xs(d[0])).y((d) => ys(d[1]));
      const id = `clip-${r}-${c}`;
      const s = panelSeries[r][c];
      panels.push(
        <g key={id}>
          <defs>
            <clipPath id={id}>
              <rect x={x0} y={y0} width={panelW} height={panelH} />
            </clipPath>
          </defs>
          <g clipPath={`url(#${id})`}>
            <path d={line(s.red) || ""} fill="none" stroke="#ff0000" strokeWidth={1.4} strokeLinejoin="round" />
            <path d={line(s.black) || ""} fill="none" stroke="#000" strokeWidth={1.6} strokeLinejoin="round" />
          </g>
          {xTicks.map((t) => (
            <g key={`xt${t}`}>
              <line x1={xs(t)} x2={xs(t)} y1={y0 + panelH} y2={y0 + panelH - TICK} stroke="#000" strokeWidth={1} />
              <line x1={xs(t)} x2={xs(t)} y1={y0} y2={y0 + TICK} stroke="#000" strokeWidth={1} />
            </g>
          ))}
          {yTickSets[r].map((t) => (
            <g key={`yt${t}`}>
              <line x1={x0} x2={x0 + TICK} y1={ys(t)} y2={ys(t)} stroke="#000" strokeWidth={1} />
              <line x1={x0 + panelW} x2={x0 + panelW - TICK} y1={ys(t)} y2={ys(t)} stroke="#000" strokeWidth={1} />
            </g>
          ))}
          <rect x={x0} y={y0} width={panelW} height={panelH} fill="none" stroke="#000" strokeWidth={1.3} />
          {c === 0 &&
            yTickSets[r].map((t) => (
              <text key={`yl${t}`} x={x0 - 7} y={ys(t) + 8} textAnchor="end" fontFamily={FONT} fontSize={FS} letterSpacing={0.4}>
                {d3.format("~g")(t)}
              </text>
            ))}
          {r === 2 &&
            xTicks.map((t) => (
              <text key={`xl${t}`} x={xs(t)} y={y0 + panelH + 25.5} textAnchor="middle" fontFamily={FONT} fontSize={FS} letterSpacing={0.4}>
                {t}
              </text>
            ))}
          {r === 2 && (
            <text x={x0 + panelW / 2} y={718} textAnchor="middle" fontFamily={FONT} fontSize={FS} letterSpacing={LS}>
              {xLabel}
            </text>
          )}
          {r === 0 && (
            <text x={x0 + panelW / 2} y={22.5} textAnchor="middle" fontFamily={FONT} fontSize={FS} letterSpacing={LS}>
              {columnTitles[c]}
            </text>
          )}
          {c === 0 && (
            <text
              transform={`translate(30,${y0 + panelH / 2 - 2}) rotate(-90)`}
              textAnchor="middle"
              fontFamily={FONT}
              fontSize={FS}
              letterSpacing={LS}
            >
              {rowLabels[r]}
            </text>
          )}
        </g>
      );
    }
  }
  return (
    <svg width={W} height={H} style={{ position: "absolute", left: 0, top: 0, background: "#fff" }}>
      <rect width={W} height={H} fill="#fff" />
      {panels}
    </svg>
  );
}
